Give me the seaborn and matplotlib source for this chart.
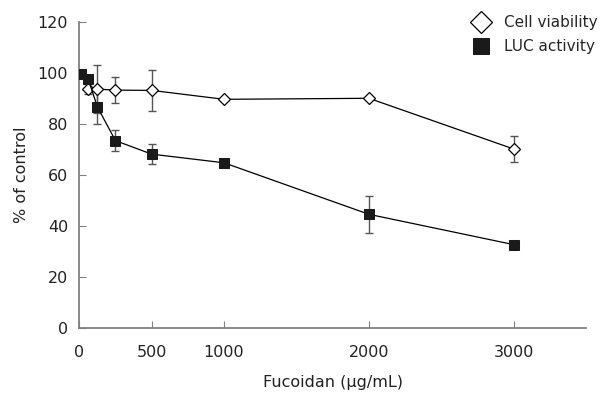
import numpy as np
import pandas as pd
import seaborn as sns
import matplotlib.pyplot as plt

# fucoidan concentration (ug/mL)
cv_dose = [62.5, 125, 250, 500, 1000, 2000, 3000]
cv_mean = [93.7, 93.7, 93.3, 93.2, 89.7, 90.1, 70.2]
cv_err = [2.0, 9.5, 5.0, 8.0, 0.0, 0.0, 5.0]

luc_dose = [15.6, 62.5, 125, 250, 500, 1000, 2000, 3000]
luc_mean = [99.6, 97.6, 86.8, 73.5, 68.2, 64.8, 44.6, 32.7]
luc_err = [0.0, 0.0, 6.8, 4.0, 4.0, 0.0, 7.2, 0.0]

sns.set_style('ticks')
plt.rcParams['font.family'] = ['DejaVu Sans']

fig = plt.figure(figsize=(6, 4.01), dpi=100)
ax = fig.add_axes([0.132, 0.182, 0.845, 0.763])

cv = pd.DataFrame({'dose': cv_dose, 'pct': cv_mean})
luc = pd.DataFrame({'dose': luc_dose, 'pct': luc_mean})

ax.errorbar(cv_dose, cv_mean, yerr=cv_err, fmt='none', ecolor='#555555',
            elinewidth=1, capsize=3, zorder=1)
ax.errorbar(luc_dose, luc_mean, yerr=luc_err, fmt='none', ecolor='#555555',
            elinewidth=1, capsize=3, zorder=1)

sns.lineplot(data=cv, x='dose', y='pct', ax=ax, color='black', lw=0.9,
             marker='D', markersize=6, markerfacecolor='white',
             markeredgecolor='black', markeredgewidth=0.9,
             label='Cell viability', zorder=3)
sns.lineplot(data=luc, x='dose', y='pct', ax=ax, color='black', lw=0.9,
             marker='s', markersize=6.5, markerfacecolor='#1a1a1a',
             markeredgecolor='#1a1a1a', label='LUC activity', zorder=3)

ax.set_xlim(0, 3500)
ax.set_ylim(0, 120)
ax.set_xticks([0, 500, 1000, 2000, 3000])
ax.set_yticks(range(0, 121, 20))
ax.tick_params(direction='in', length=5, color='#808080', labelsize=11.5,
               labelcolor='#222222')
ax.tick_params(axis='x', pad=12)
ax.tick_params(axis='y', pad=8)
sns.despine(ax=ax)
for s in ['left', 'bottom']:
    ax.spines[s].set_color('#808080')
    ax.spines[s].set_linewidth(1.3)

ax.set_xlabel('Fucoidan (\u03bcg/mL)', fontsize=11.5, color='#222222', labelpad=11)
ax.set_ylabel('% of control', fontsize=11.5, color='#222222', labelpad=6)

ax.legend(loc='upper right', bbox_to_anchor=(1.05, 1.067), frameon=False,
          fontsize=11, handlelength=1.2, handletextpad=0.9,
          labelspacing=0.6)
for h in ax.get_legend().get_lines():
    h.set_linestyle('none')
    h.set_markersize(11)

fig.savefig('out.png', dpi=100)
